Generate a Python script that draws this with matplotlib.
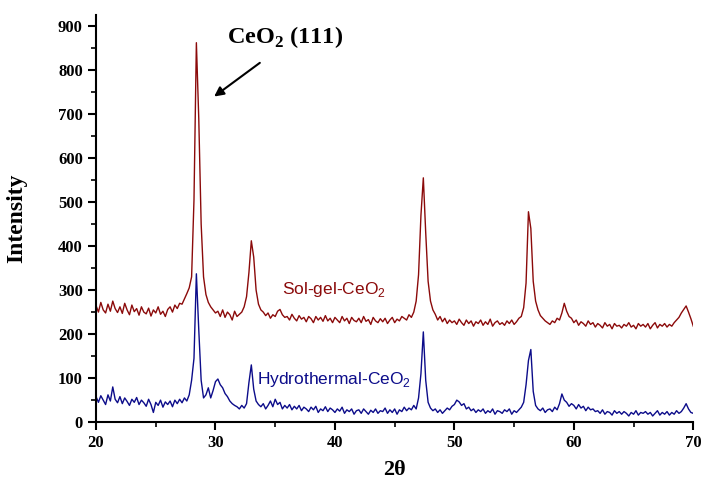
import numpy as np
import matplotlib.pyplot as plt
from matplotlib.ticker import MultipleLocator

# 2-theta grid, 0.2 deg step from 20 to 70
two_theta = np.round(np.arange(20.0, 70.0001, 0.2), 1)

sol_gel = [
    265, 250, 272, 255, 248, 268, 252, 275, 258, 249,   # 20.0 - 21.8
    262, 247, 270, 255, 244, 266, 251, 258, 243, 262,   # 22.0 - 23.8
    250, 246, 259, 241, 255, 248, 262, 245, 252, 240,   # 24.0 - 25.8
    256, 262, 250, 266, 258, 270, 268, 280, 292, 305,   # 26.0 - 27.8
    330, 505, 862, 690, 450, 330, 290, 272, 262, 255,   # 28.0 - 29.8
    248, 252, 240, 255, 238, 250, 244, 232, 252, 240,   # 30.0 - 31.8
    245, 250, 262, 285, 340, 412, 375, 300, 268, 255,   # 32.0 - 33.8
    250, 242, 248, 236, 244, 240, 252, 256, 244, 238,   # 34.0 - 35.8
    240, 232, 245, 236, 230, 242, 234, 238, 228, 240,   # 36.0 - 37.8
    235, 226, 240, 232, 238, 229, 242, 230, 236, 226,   # 38.0 - 39.8
    238, 232, 226, 240, 230, 236, 224, 238, 231, 228,   # 40.0 - 41.8
    236, 226, 240, 229, 233, 222, 238, 230, 226, 235,   # 42.0 - 43.8
    228, 236, 224, 232, 238, 226, 234, 230, 240, 236,   # 44.0 - 45.8
    232, 244, 238, 250, 275, 335, 470, 555, 430, 320,   # 46.0 - 47.8
    275, 255, 245, 232, 240, 228, 236, 224, 232, 226,   # 48.0 - 49.8
    230, 222, 234, 226, 220, 232, 224, 230, 218, 228,   # 50.0 - 51.8
    224, 232, 220, 228, 222, 234, 218, 226, 230, 222,   # 52.0 - 53.8
    226, 220, 230, 224, 232, 222, 228, 236, 240, 260,   # 54.0 - 55.8
    316, 478, 440, 320, 275, 255, 242, 236, 230, 226,   # 56.0 - 57.8
    222, 230, 226, 236, 232, 248, 270, 252, 240, 236,   # 58.0 - 59.8
    226, 232, 220, 228, 224, 218, 230, 222, 226, 216,   # 60.0 - 61.8
    224, 220, 214, 226, 218, 222, 212, 224, 218, 220,   # 62.0 - 63.8
    214, 222, 218, 226, 216, 220, 212, 224, 218, 222,   # 64.0 - 65.8
    216, 224, 212, 220, 226, 214, 222, 218, 224, 216,   # 66.0 - 67.8
    222, 218, 226, 232, 238, 248, 256, 264, 250, 235,   # 68.0 - 69.8
    218,                                                # 70.0
]

hydrothermal = [
    58, 45, 60, 50, 40, 62, 48, 80, 52, 44,             # 20.0 - 21.8
    58, 42, 55, 47, 38, 52, 45, 56, 40, 50,             # 22.0 - 23.8
    44, 36, 52, 40, 22, 45, 38, 50, 34, 46,             # 24.0 - 25.8
    40, 48, 35, 50, 42, 52, 44, 55, 48, 62,             # 26.0 - 27.8
    95, 145, 337, 210, 95, 55, 62, 78, 55, 72,          # 28.0 - 29.8
    92, 98, 85, 78, 65, 58, 48, 42, 38, 35,             # 30.0 - 31.8
    30, 38, 32, 42, 90, 130, 75, 48, 40, 35,            # 32.0 - 33.8
    42, 30, 38, 48, 35, 52, 40, 45, 30, 38,             # 34.0 - 35.8
    32, 40, 28, 36, 30, 38, 26, 34, 30, 24,             # 36.0 - 37.8
    34, 28, 36, 22, 30, 26, 35, 24, 32, 28,             # 38.0 - 39.8
    22, 30, 25, 34, 20, 28, 24, 30, 18, 26,             # 40.0 - 41.8
    28, 20, 30, 24, 18, 27, 22, 30, 20, 26,             # 42.0 - 43.8
    24, 32, 20, 28, 22, 30, 18, 28, 24, 34,             # 44.0 - 45.8
    26, 32, 28, 38, 30, 55, 110, 205, 95, 45,           # 46.0 - 47.8
    32, 26, 30, 22, 28, 20, 26, 32, 28, 36,             # 48.0 - 49.8
    40, 50, 46, 38, 42, 30, 34, 26, 30, 22,             # 50.0 - 51.8
    28, 24, 30, 20, 26, 22, 30, 18, 26, 24,             # 52.0 - 53.8
    20, 28, 24, 30, 18, 26, 22, 28, 34, 45,             # 54.0 - 55.8
    85, 140, 165, 70, 38, 30, 26, 32, 22, 28,           # 56.0 - 57.8
    30, 24, 34, 28, 42, 64, 50, 45, 36, 42,             # 58.0 - 59.8
    38, 30, 40, 32, 36, 26, 34, 28, 30, 24,             # 60.0 - 61.8
    26, 20, 28, 18, 24, 22, 16, 26, 20, 24,             # 62.0 - 63.8
    18, 24, 20, 14, 22, 18, 26, 16, 22, 20,             # 64.0 - 65.8
    24, 18, 22, 14, 20, 26, 16, 22, 18, 24,             # 66.0 - 67.8
    16, 22, 18, 26, 20, 24, 32, 42, 30, 22,             # 68.0 - 69.8
    20,                                                 # 70.0
]

red = "#8b0a0a"
blue = "#0c0c8a"
serif = "Liberation Serif"
sans = "Liberation Sans"

# subscripts: sans digits for the curve labels, bold serif for the peak label
plt.rcParams["mathtext.fontset"] = "custom"
plt.rcParams["mathtext.rm"] = "Liberation Sans"
plt.rcParams["mathtext.bf"] = "Liberation Serif:bold"

fig = plt.figure(figsize=(7.01, 4.83), dpi=100)
ax = fig.add_axes([0.137, 0.126, 0.852, 0.843])

ax.plot(two_theta, sol_gel, color=red, linewidth=1.0)
ax.plot(two_theta, hydrothermal, color=blue, linewidth=1.0)

ax.set_xlim(20, 70)
ax.set_ylim(0, 925)
ax.xaxis.set_major_locator(MultipleLocator(10))
ax.xaxis.set_minor_locator(MultipleLocator(5))
ax.yaxis.set_major_locator(MultipleLocator(100))
ax.yaxis.set_minor_locator(MultipleLocator(50))
ax.tick_params(which="major", direction="out", length=6, width=1.5, labelsize=12)
ax.tick_params(which="minor", direction="out", length=3.5, width=1.2)
for lbl in ax.get_xticklabels() + ax.get_yticklabels():
    lbl.set_fontfamily(serif)
    lbl.set_fontweight("bold")

for side in ("top", "right"):
    ax.spines[side].set_visible(False)
for side in ("left", "bottom"):
    ax.spines[side].set_linewidth(1.5)

ax.set_ylabel("Intensity", fontfamily=serif, fontweight="bold", fontsize=17, labelpad=22)
ax.set_xlabel("2θ", fontfamily=serif, fontweight="bold", fontsize=16, labelpad=6)

ax.text(31.0, 845, "CeO$_\\mathbf{2}$ (111)", fontfamily=serif, fontweight="bold",
        fontsize=17.5, va="bottom", ha="left")
ax.annotate("", xy=(29.7, 736), xytext=(33.9, 820),
            arrowprops=dict(arrowstyle="-|>", color="black", lw=1.5, mutation_scale=14))

ax.text(35.6, 302, "Sol-gel-CeO$_2$", fontfamily=sans, color=red, fontsize=12.5, va="center")
ax.text(33.5, 98, "Hydrothermal-CeO$_2$", fontfamily=sans, color=blue, fontsize=12.5, va="center")

fig.savefig("out.png", dpi=100)
